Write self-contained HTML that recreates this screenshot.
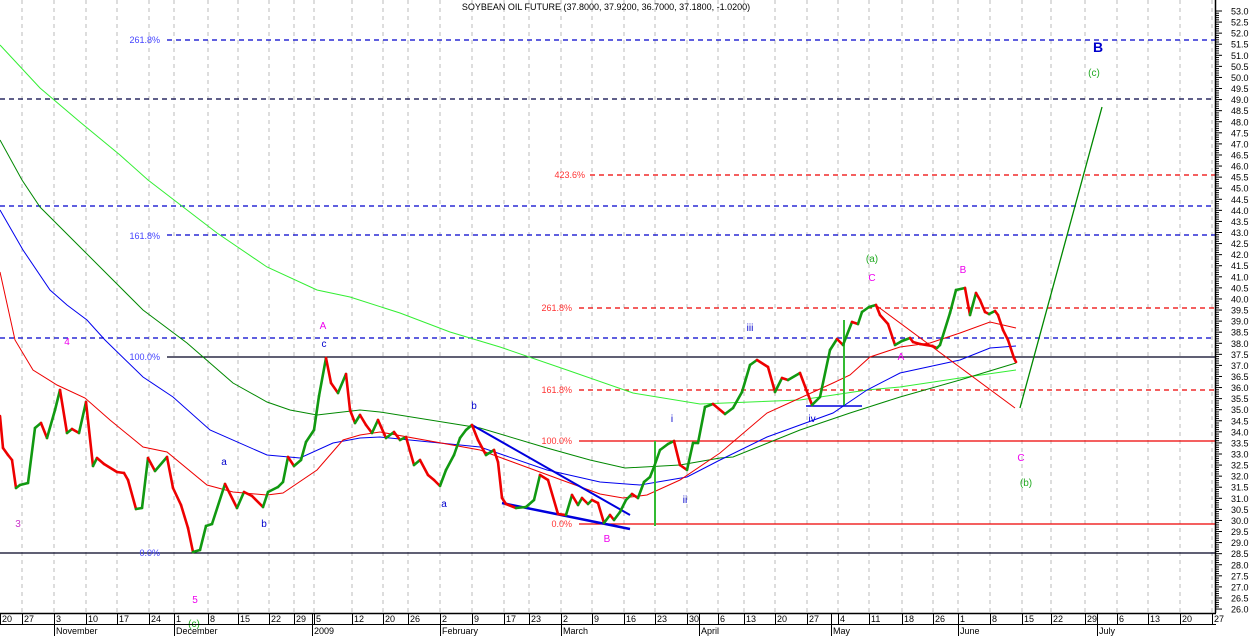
<!DOCTYPE html>
<html><head><meta charset="utf-8"><style>
body{margin:0;background:#fff;}
svg{display:block;font-family:"Liberation Sans",sans-serif;}
</style></head><body>
<svg width="1250" height="636" viewBox="0 0 1250 636" xmlns="http://www.w3.org/2000/svg">
<rect width="1250" height="636" fill="#fff"/>
<g stroke="#bbb" stroke-dasharray="4,4" stroke-width="1">
<line x1="22" y1="0" x2="22" y2="613"/><line x1="54" y1="0" x2="54" y2="613"/><line x1="86" y1="0" x2="86" y2="613"/><line x1="117" y1="0" x2="117" y2="613"/><line x1="149" y1="0" x2="149" y2="613"/><line x1="174" y1="0" x2="174" y2="613"/><line x1="208" y1="0" x2="208" y2="613"/><line x1="238" y1="0" x2="238" y2="613"/><line x1="269" y1="0" x2="269" y2="613"/><line x1="294" y1="0" x2="294" y2="613"/><line x1="314" y1="0" x2="314" y2="613"/><line x1="352" y1="0" x2="352" y2="613"/><line x1="383" y1="0" x2="383" y2="613"/><line x1="408" y1="0" x2="408" y2="613"/><line x1="440" y1="0" x2="440" y2="613"/><line x1="472" y1="0" x2="472" y2="613"/><line x1="504" y1="0" x2="504" y2="613"/><line x1="529" y1="0" x2="529" y2="613"/><line x1="561" y1="0" x2="561" y2="613"/><line x1="592" y1="0" x2="592" y2="613"/><line x1="624" y1="0" x2="624" y2="613"/><line x1="655" y1="0" x2="655" y2="613"/><line x1="687" y1="0" x2="687" y2="613"/><line x1="718" y1="0" x2="718" y2="613"/><line x1="744" y1="0" x2="744" y2="613"/><line x1="775" y1="0" x2="775" y2="613"/><line x1="807" y1="0" x2="807" y2="613"/><line x1="838" y1="0" x2="838" y2="613"/><line x1="869" y1="0" x2="869" y2="613"/><line x1="902" y1="0" x2="902" y2="613"/><line x1="933" y1="0" x2="933" y2="613"/><line x1="958" y1="0" x2="958" y2="613"/><line x1="990" y1="0" x2="990" y2="613"/><line x1="1022" y1="0" x2="1022" y2="613"/><line x1="1051" y1="0" x2="1051" y2="613"/><line x1="1085" y1="0" x2="1085" y2="613"/><line x1="1117" y1="0" x2="1117" y2="613"/><line x1="1148" y1="0" x2="1148" y2="613"/><line x1="1180" y1="0" x2="1180" y2="613"/><line x1="1212" y1="0" x2="1212" y2="613"/>
</g>
<g stroke-width="1.3" fill="none">
<line x1="167" y1="40" x2="1215" y2="40" stroke="#00c" stroke-dasharray="5,4"/>
<line x1="0" y1="99" x2="1215" y2="99" stroke="#004" stroke-dasharray="5,4"/>
<line x1="590" y1="175" x2="1215" y2="175" stroke="#e00" stroke-dasharray="5,4"/>
<line x1="0" y1="206" x2="1215" y2="206" stroke="#00c" stroke-dasharray="5,4"/>
<line x1="167" y1="235" x2="1215" y2="235" stroke="#00c" stroke-dasharray="5,4"/>
<line x1="579" y1="308" x2="1215" y2="308" stroke="#e00" stroke-dasharray="5,4"/>
<line x1="0" y1="338" x2="1215" y2="338" stroke="#00c" stroke-dasharray="5,4"/>
<line x1="167" y1="357" x2="1215" y2="357" stroke="#002"/>
<line x1="579" y1="390" x2="1215" y2="390" stroke="#e00" stroke-dasharray="5,4"/>
<line x1="579" y1="441" x2="1215" y2="441" stroke="#e00"/>
<line x1="579" y1="524" x2="1215" y2="524" stroke="#e00"/>
<line x1="0" y1="553" x2="1215" y2="553" stroke="#002"/>
</g>
<g font-size="9" text-anchor="end">
<text x="160" y="43" fill="#44f">261.8%</text>
<text x="160" y="239" fill="#44f">161.8%</text>
<text x="160" y="360" fill="#44f">100.0%</text>
<text x="160" y="556" fill="#44f">0.0%</text>
<text x="585" y="178" fill="#f33">423.6%</text>
<text x="572" y="311" fill="#f33">261.8%</text>
<text x="572" y="393" fill="#f33">161.8%</text>
<text x="572" y="444" fill="#f33">100.0%</text>
<text x="572" y="527" fill="#f33">0.0%</text>
</g>
<g fill="none" stroke-width="1">
<polyline stroke="#33ee33" points="0,45 40,88 80,122 120,155 148,180 217,233 267,267 317,290 350,297 400,313 450,332 500,347 567,370 633,393 700,404 800,400 867,390 900,387 960,378 1016,370"/>
<polyline stroke="#008800" points="0,140 22,180 40,207 83,250 143,310 187,343 233,383 267,402 290,410 317,415 360,410 380,412 480,428 547,448 590,460 625,468 680,465 720,458 733,457 800,430 850,413 900,397 960,380 1016,363"/>
<polyline stroke="#0000ee" points="0,210 23,250 50,290 67,305 87,320 105,340 143,377 173,397 210,430 267,455 300,458 333,443 360,438 380,437 480,447 547,470 600,482 640,485 687,477 720,460 767,437 833,413 867,390 900,373 960,360 990,348 1016,346"/>
<polyline stroke="#ee0000" points="0,272 15,340 33,370 57,385 85,398 110,420 143,447 167,452 207,485 233,492 267,495 283,493 317,470 343,440 360,435 380,432 480,450 567,482 600,494 623,498 647,495 680,480 720,453 767,413 833,383 850,375 870,357 900,347 930,343 960,333 990,322 1016,328"/>
</g>
<g fill="none">
<line x1="472" y1="425" x2="630" y2="515" stroke="#0000dd" stroke-width="2"/>
<line x1="502" y1="503" x2="630" y2="529" stroke="#0000dd" stroke-width="2.5"/>
<line x1="877" y1="306" x2="1015" y2="408" stroke="#e00" stroke-width="1"/>
<line x1="1020" y1="408" x2="1102" y2="107" stroke="#080" stroke-width="1.3"/>
<line x1="655" y1="441" x2="655" y2="526" stroke="#33bb33" stroke-width="2"/>
<line x1="844" y1="320" x2="844" y2="406" stroke="#33bb33" stroke-width="2"/>
<line x1="806" y1="406" x2="862" y2="406" stroke="#0000dd" stroke-width="1.5"/>
</g>
<g id="price" fill="none" stroke-width="2.6" stroke-linejoin="round"></g>
<g font-size="10" text-anchor="middle">
<text x="18" y="527" fill="#c3c">3</text>
<text x="67" y="345" fill="#e0e">4</text>
<text x="195" y="603" fill="#e0e">5</text>
<text x="194" y="627" fill="#2a2">(c)</text>
<text x="224" y="465" fill="#00c">a</text>
<text x="264" y="527" fill="#00c">b</text>
<text x="323" y="329" fill="#e0e">A</text>
<text x="324" y="347" fill="#00c">c</text>
<text x="474" y="409" fill="#00c">b</text>
<text x="444" y="507" fill="#00c">a</text>
<text x="607" y="542" fill="#e0e">B</text>
<text x="672" y="422" fill="#00c">i</text>
<text x="685" y="503" fill="#00c">ii</text>
<text x="750" y="331" fill="#00c">iii</text>
<text x="812" y="422" fill="#00c">iv</text>
<text x="872" y="262" fill="#2a2">(a)</text>
<text x="872" y="281" fill="#e0e">C</text>
<text x="901" y="360" fill="#e0e">A</text>
<text x="963" y="273" fill="#e0e">B</text>
<text x="1021" y="461" fill="#e0e">C</text>
<text x="1026" y="486" fill="#2a2">(b)</text>
<text x="1094" y="76" fill="#2a2">(c)</text>
<text x="1098" y="52" fill="#00c" font-size="14" font-weight="bold">B</text>
</g>
<text x="606" y="10" font-size="9" text-anchor="middle" fill="#000">SOYBEAN OIL FUTURE (37.8000, 37.9200, 36.7000, 37.1800, -1.0200)</text>
<line x1="1215.5" y1="0" x2="1215.5" y2="613" stroke="#000" stroke-width="1.5"/>
<g id="ticks"></g>
<line x1="0" y1="613.5" x2="1216" y2="613.5" stroke="#000" stroke-width="1.5"/>
<line x1="0" y1="624.5" x2="1216" y2="624.5" stroke="#000" stroke-width="1"/>
<g id="dates" font-size="9"></g>
</svg>
<script>
var NS="http://www.w3.org/2000/svg";
function el(t,a,p,txt){var e=document.createElementNS(NS,t);for(var k in a)e.setAttribute(k,a[k]);if(txt!==undefined)e.textContent=txt;p.appendChild(e);return e;}
var pts=[[0,416],[3,448],[8,455],[12,460],[16,488],[20,485],[28,483],[35,428],[41,423],[47,438],[55,410],[60,390],[67,433],[72,429],[79,433],[86,402],[93,466],[97,458],[104,464],[117,472],[124,473],[128,480],[136,509],[142,508],[148,458],[155,471],[167,457],[173,488],[181,505],[188,528],[193,552],[200,550],[206,526],[212,524],[225,484],[237,508],[244,492],[252,496],[263,507],[268,492],[278,487],[283,482],[288,457],[294,466],[301,460],[306,442],[314,430],[319,396],[326,358],[331,383],[338,393],[346,374],[350,410],[355,423],[360,415],[366,425],[372,433],[378,420],[386,438],[394,432],[400,440],[406,437],[414,465],[420,460],[428,475],[434,480],[440,486],[446,470],[454,455],[460,438],[466,430],[472,425],[478,440],[486,455],[494,450],[498,462],[502,498],[506,504],[516,508],[526,507],[534,500],[540,475],[548,480],[558,514],[566,515],[572,495],[578,505],[582,498],[588,504],[592,500],[598,503],[604,523],[610,515],[614,520],[620,512],[626,500],[632,494],[638,498],[644,482],[650,477],[654,467],[660,450],[668,444],[674,441],[680,465],[687,470],[693,443],[698,443],[705,407],[713,404],[725,414],[733,408],[742,392],[750,365],[757,360],[768,367],[775,392],[782,378],[788,380],[800,373],[812,405],[820,397],[830,350],[837,339],[843,345],[852,322],[858,324],[862,312],[869,307],[876,305],[880,315],[888,324],[895,345],[902,341],[910,338],[913,342],[920,344],[932,346],[937,348],[940,345],[950,313],[956,290],[965,288],[970,315],[976,293],[980,300],[985,312],[989,314],[995,311],[998,315],[1003,330],[1008,340],[1014,358],[1016,362]];
var g=document.getElementById("price");
for(var i=1;i<pts.length;i++){var a=pts[i-1],b=pts[i];el("line",{x1:a[0],y1:a[1],x2:b[0],y2:b[1],stroke:b[1]<=a[1]?"#119911":"#ee0000","stroke-linecap":"round"},g);}
var tk=document.getElementById("ticks");
for(var p=26;p<=53.01;p+=0.1){var y=11+(53-p)*22.15;var r=Math.round(p*10);var len=(r%5==0)?6:3;el("line",{x1:1216,y1:y,x2:1216+len,y2:y,stroke:"#000","stroke-width":1},tk);if(r%5==0)el("text",{x:1231,y:y+3.5,"font-size":"9",fill:"#000"},tk,(r/10).toFixed(1));}
var dg=document.getElementById("dates");
var d=[[0,"20"],[22,"27"],[54,"3"],[86,"10"],[117,"17"],[149,"24"],[174,"1"],[208,"8"],[238,"15"],[269,"22"],[294,"29"],[314,"5"],[352,"12"],[383,"20"],[408,"26"],[440,"2"],[472,"9"],[504,"17"],[529,"23"],[561,"2"],[592,"9"],[624,"16"],[655,"23"],[687,"30"],[718,"6"],[744,"13"],[775,"20"],[807,"27"],[838,"4"],[869,"11"],[902,"18"],[933,"26"],[958,"1"],[990,"8"],[1022,"15"],[1051,"22"],[1085,"29"],[1117,"6"],[1148,"13"],[1180,"20"],[1212,"27"]];
d.forEach(function(q){el("line",{x1:q[0]+0.5,y1:613,x2:q[0]+0.5,y2:624,stroke:"#000"},dg);el("text",{x:q[0]+2,y:622},dg,q[1]);});
[[54,"November"],[174,"December"],[312,"2009"],[440,"February"],[561,"March"],[699,"April"],[831,"May"],[958,"June"],[1097,"July"]].forEach(function(q){el("line",{x1:q[0]+0.5,y1:613,x2:q[0]+0.5,y2:636,stroke:"#000"},dg);el("text",{x:q[0]+2,y:634},dg,q[1]);});
</script>
</body></html>
